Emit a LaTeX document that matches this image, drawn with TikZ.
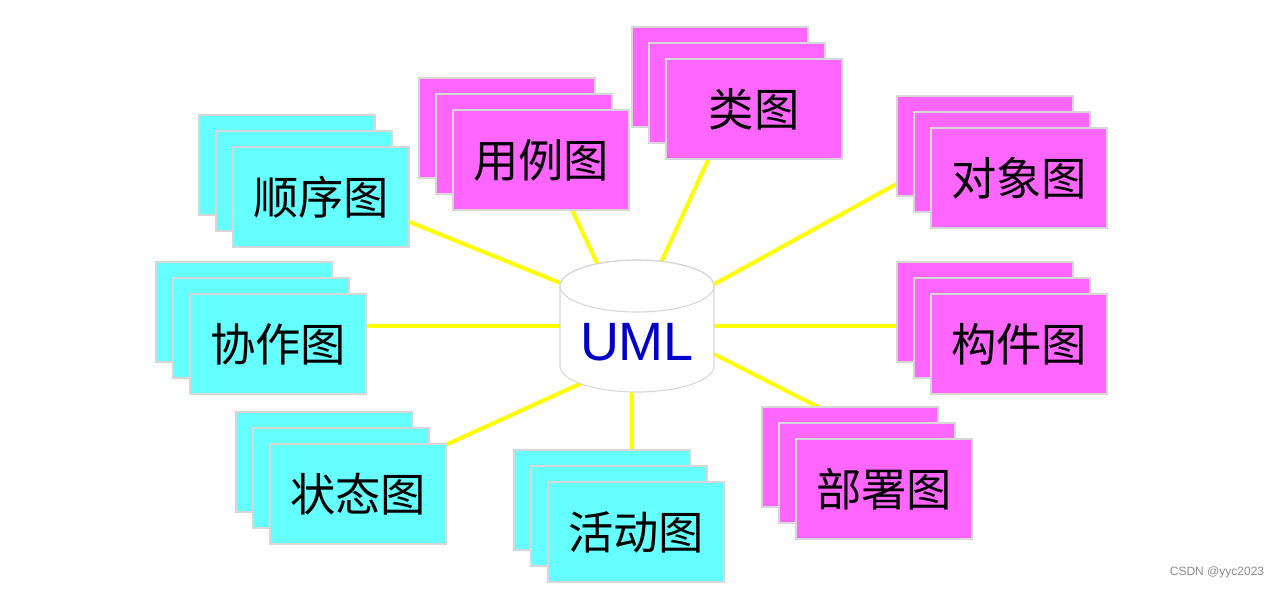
\documentclass[tikz,border=0pt]{standalone}
\usepackage{fontspec}
\setmainfont{Liberation Sans}
\newfontfamily\cjk{Noto Sans CJK SC}
\definecolor{pinkc}{RGB}{255,102,255}
\definecolor{cyanc}{RGB}{102,255,255}
\definecolor{edgec}{RGB}{215,215,215}
\definecolor{umlblue}{RGB}{0,0,200}
\definecolor{linkc}{RGB}{255,255,0}
\tikzset{
  card/.style={draw=edgec, line width=0.8pt, minimum width=132pt, minimum height=75pt,
    inner sep=0pt, font=\cjk\fontsize{34}{34}\selectfont},
  pinkcard/.style={card, fill=pinkc},
  cyancard/.style={card, fill=cyanc},
  link/.style={draw=linkc, line width=3pt},
}
\newcommand\umlstack[5]{%
  \node[#4] (#1c) at (#2-34,#3-32) {};
  \node[#4] (#1b) at (#2-17,#3-16) {};
  \node[#4] (#1) at (#2,#3) {#5};
}
\begin{document}
\begin{tikzpicture}[x=0.75pt,y=-0.75pt]
\useasboundingbox (0,0) rectangle (1281,589);
% connector end points
\coordinate (c1) at (590,295); \coordinate (e1) at (380,210);
\coordinate (c2) at (605,280); \coordinate (e2) at (566,197);
\coordinate (c3) at (653,280); \coordinate (e3) at (715,145);
\coordinate (c4) at (700,292); \coordinate (e4) at (920,171);
\coordinate (c5) at (700,326); \coordinate (e5) at (920,326);
\coordinate (c6) at (700,347); \coordinate (e6) at (830,413);
\coordinate (c7) at (632,380); \coordinate (e7) at (632,460);
\coordinate (c8) at (595,377); \coordinate (e8) at (430,452);
\coordinate (c9) at (580,326); \coordinate (e9) at (340,326);
\foreach \i in {1,...,9} \draw[link] (c\i) -- (e\i);
% cylinder
\path[fill=white, draw=edgec, line width=0.8pt]
  (560,286) -- (560,366)
  arc[start angle=180, end angle=360, x radius=57.75pt, y radius=19.5pt]
  -- (714,286)
  arc[start angle=0, end angle=180, x radius=57.75pt, y radius=19.5pt] -- cycle;
\draw[edgec, line width=0.8pt] (637,286) ellipse[x radius=57.75pt, y radius=19.5pt];
\node[anchor=base, inner sep=0pt, text=umlblue, font=\fontsize{40.5}{40}\selectfont] (uml) at (637,360) {UML};
% stacks
\umlstack{cls}{754}{109}{pinkcard}{类图}
\umlstack{use}{541}{160}{pinkcard}{用例图}
\umlstack{seq}{321}{197}{cyancard}{顺序图}
\umlstack{obj}{1019}{178}{pinkcard}{对象图}
\umlstack{col}{278}{344}{cyancard}{协作图}
\umlstack{cmp}{1019}{344}{pinkcard}{构件图}
\umlstack{sta}{358}{494}{cyancard}{状态图}
\umlstack{act}{636}{532}{cyancard}{活动图}
\umlstack{dep}{884}{489}{pinkcard}{部署图}
% watermark
\node[text=black!45, font=\fontsize{9}{10}\selectfont, inner sep=0pt] (wm) at (1217,572) {CSDN @yyc2023};
\end{tikzpicture}
\end{document}
